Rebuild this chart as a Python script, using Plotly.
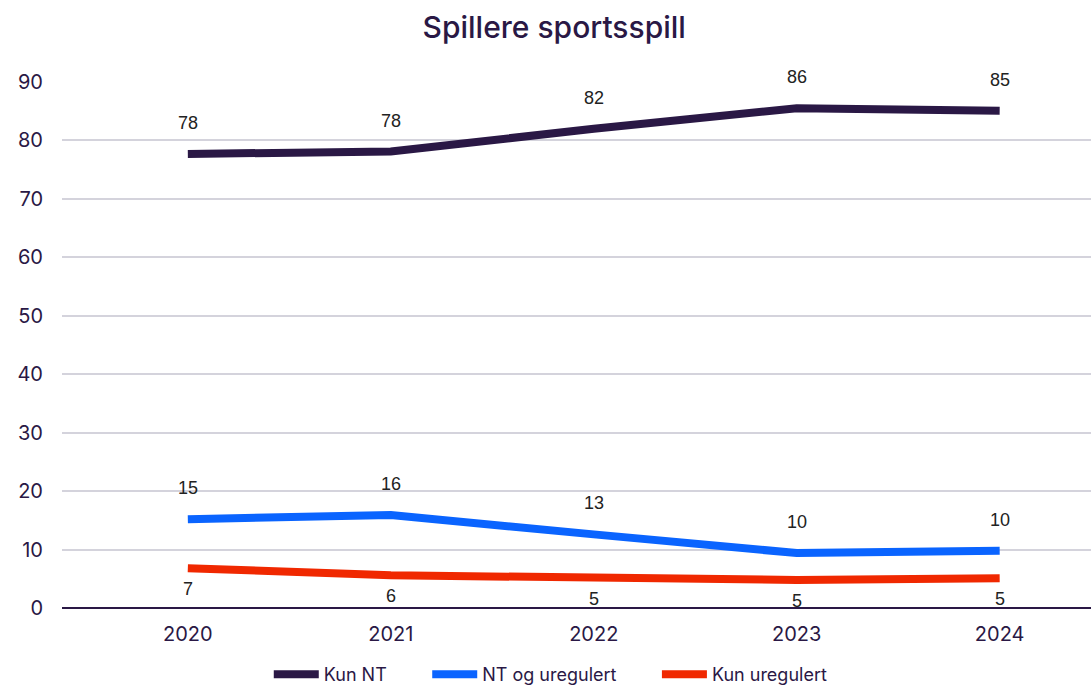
import plotly.graph_objects as go

years = ["2020", "2021", "2022", "2023", "2024"]
kun_nt = [77.7, 78.1, 82.0, 85.5, 85.1]
nt_og_uregulert = [15.2, 15.9, 12.6, 9.4, 9.8]
kun_uregulert = [6.8, 5.6, 5.2, 4.8, 5.1]
kun_nt_labels = ["78", "78", "82", "86", "85"]
nt_og_labels = ["15", "16", "13", "10", "10"]
kun_ureg_labels = ["7", "6", "5", "5", "5"]

PAD = "\u00a0" * 7

series = [
    ("Kun NT", kun_nt, kun_nt_labels, "#2a1845", 31),
    ("NT og uregulert", nt_og_uregulert, nt_og_labels, "#0a64ff", 31),
    ("Kun uregulert", kun_uregulert, kun_ureg_labels, "#f02800", -21),
]

fig = go.Figure()
annotations = []
for idx, (name, vals, labels, color, shift) in enumerate(series):
    fig.add_trace(go.Scatter(
        x=years, y=vals, mode="lines",
        name=name + (PAD if idx < len(series) - 1 else ""),
        line=dict(color=color, width=8),
    ))
    for i, (yv, lab) in enumerate(zip(vals, labels)):
        annotations.append(dict(
            x=i, y=yv, xref="x", yref="y", text=lab, showarrow=False, yshift=shift,
            font=dict(family="Liberation Sans, Arial", size=18, color="#222222"),
        ))

fig.update_layout(
    width=1091, height=693,
    margin=dict(l=62, r=0, t=82, b=85),
    paper_bgcolor="white", plot_bgcolor="white",
    title=dict(text="Spillere sportsspill", x=0.508, xanchor="center", y=0.96, yanchor="middle",
               font=dict(family="Inter, Lato, sans-serif", size=30, color="#2a1845", weight=500)),
    showlegend=True,
    legend=dict(orientation="h", x=0.475, xanchor="center", y=-0.162, yanchor="bottom",
                font=dict(family="Inter, Lato, sans-serif", size=18, color="#2a1845"),
                itemwidth=45, tracegroupgap=0),
    annotations=annotations,
    xaxis=dict(type="category", range=[-0.62, 4.45], showgrid=False, zeroline=False,
               showline=False, ticks="", ticklabelstandoff=12,
               tickfont=dict(family="Inter, Lato, sans-serif", size=20, color="#2a1845")),
    yaxis=dict(range=[0, 90], tickvals=[0, 10, 20, 30, 40, 50, 60, 70, 80, 90],
               showgrid=True, gridcolor="#d4d3dc", gridwidth=2,
               zeroline=True, zerolinecolor="#2a1845", zerolinewidth=2,
               ticks="", ticklabelstandoff=18,
               tickfont=dict(family="Inter, Lato, sans-serif", size=20, color="#2a1845")),
)

fig.write_html("out.html")
